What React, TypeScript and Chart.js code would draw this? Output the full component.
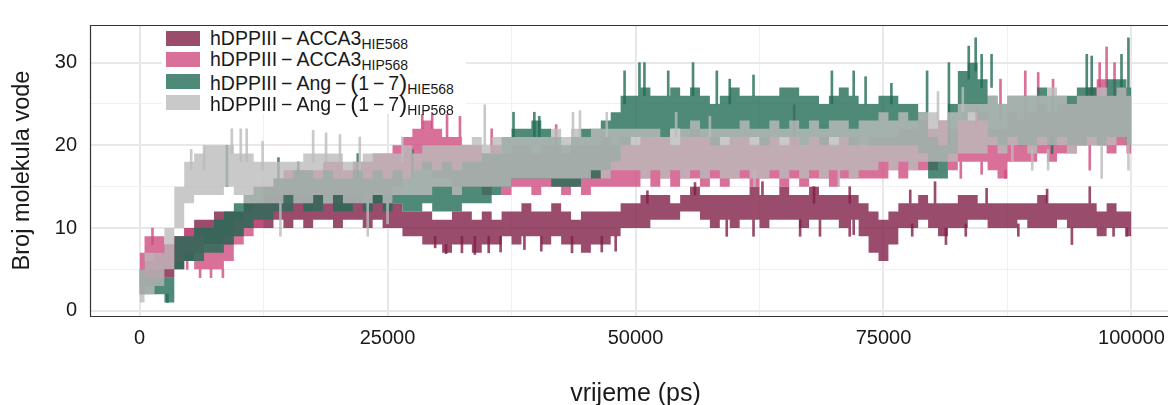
import React, { useEffect, useRef } from 'react';
import { Chart, registerables } from 'chart.js';

Chart.register(...registerables);

// time grid (ps)
const TIME = [
  0, 1000, 2000, 3000, 4000, 5000, 6000, 7000, 8000, 9000,
  10000, 11000, 12000, 13000, 14000, 15000, 16000, 17000, 18000, 19000,
  20000, 21000, 22000, 23000, 24000, 25000, 26000, 27000, 28000, 29000,
  30000, 31000, 32000, 33000, 34000, 35000, 36000, 37000, 38000, 39000,
  40000, 41000, 42000, 43000, 44000, 45000, 46000, 47000, 48000, 49000,
  50000, 51000, 52000, 53000, 54000, 55000, 56000, 57000, 58000, 59000,
  60000, 61000, 62000, 63000, 64000, 65000, 66000, 67000, 68000, 69000,
  70000, 71000, 72000, 73000, 74000, 75000, 76000, 77000, 78000, 79000,
  80000, 81000, 82000, 83000, 84000, 85000, 86000, 87000, 88000, 89000,
  90000, 91000, 92000, 93000, 94000, 95000, 96000, 97000, 98000, 99000,
  100000,
];

// hDPPIII-ACCA3 HIE568 : lower / upper envelope of water count
const S1_LO = [
  2, 3, 3, 4, 5, 6, 7, 8, 8, 8,
  9, 10, 10, 10, 11, 10, 11, 10, 11, 11,
  10, 11, 11, 10, 11, 10, 10, 9, 9, 8,
  8, 7, 8, 8, 7, 8, 8, 9, 8, 9,
  9, 8, 9, 8, 8, 7, 8, 8, 9, 10,
  10, 10, 11, 11, 11, 12, 12, 11, 10, 11,
  10, 11, 11, 10, 11, 11, 11, 10, 11, 11,
  11, 10, 11, 9, 7, 6, 8, 10, 10, 11,
  10, 9, 10, 10, 11, 11, 10, 10, 10, 11,
  10, 10, 10, 11, 10, 10, 10, 9, 10, 10,
  9,
];
const S1_HI = [
  5, 6, 7, 8, 9, 10, 11, 11, 12, 12,
  12, 13, 13, 14, 14, 13, 14, 14, 14, 13,
  14, 14, 14, 13, 14, 14, 13, 12, 12, 12,
  11, 11, 12, 12, 11, 12, 11, 12, 12, 13,
  12, 12, 13, 12, 11, 12, 12, 12, 12, 13,
  13, 14, 14, 14, 13, 14, 15, 14, 14, 14,
  14, 14, 15, 14, 14, 15, 14, 14, 15, 14,
  14, 14, 14, 13, 12, 11, 12, 13, 13, 14,
  13, 13, 13, 14, 14, 13, 13, 13, 13, 13,
  13, 14, 13, 13, 13, 13, 13, 12, 13, 12,
  12,
];
// spikes: [time, from, to]
const S1_SPIKES = [
  [32500, 7, 9], [33800, 6.8, 9], [35200, 7, 9], [36400, 7.1, 9], [38800, 7.4, 9], [40500, 7.2, 9],
  [43600, 7, 9], [46600, 7.1, 9], [48000, 7.2, 9], [29800, 7.6, 9], [30900, 6.9, 8],
  [59200, 9, 11], [61900, 9, 11], [66600, 9, 11], [68600, 9, 11], [71600, 9, 11], [72000, 9.2, 11],
  [77900, 9, 10.5], [81300, 8, 10], [83300, 9, 10.5], [88600, 9, 10.5], [94000, 8, 10], [98200, 9, 10], [99500, 9, 10],
  [68000, 13, 15], [71600, 13, 15], [77700, 13, 14.6], [80200, 13, 15.6], [85400, 13, 14.8], [91500, 13, 14.7],
  [95800, 13, 15], [56000, 14, 15.5], [62800, 14, 15.6], [51200, 13, 14.5],
];

// hDPPIII-ACCA3 HIP568
const S2_LO = [
  3, 5, 5, 5, 6, 7, 5, 5, 5, 6,
  8, 9, 10, 11, 12, 12, 13, 13, 12, 13,
  13, 13, 14, 13, 14, 14, 15, 16, 17, 17,
  16, 16, 15, 15, 15, 14, 15, 14, 15, 15,
  14, 15, 15, 14, 15, 14, 15, 15, 15, 15,
  15, 16, 15, 16, 15, 16, 16, 15, 16, 15,
  16, 16, 15, 16, 16, 15, 16, 15, 16, 16,
  15, 16, 16, 16, 16, 16, 17, 16, 17, 17,
  17, 18, 17, 18, 18, 18, 17, 16, 18, 18,
  18, 19, 18, 19, 19, 20, 20, 20, 19, 20,
  19,
];
const S2_HI = [
  7, 9, 9, 8, 9, 10, 9, 8, 8, 9,
  11, 12, 13, 15, 16, 17, 17, 17, 17, 18,
  18, 17, 18, 18, 19, 19, 20, 21, 22, 23,
  22, 21, 21, 20, 20, 19, 20, 19, 20, 20,
  19, 20, 20, 19, 20, 20, 20, 21, 20, 21,
  20, 21, 21, 21, 20, 21, 22, 21, 21, 20,
  21, 21, 20, 21, 21, 20, 21, 20, 21, 21,
  20, 21, 21, 20, 21, 21, 21, 22, 22, 23,
  22, 23, 22, 23, 23, 24, 22, 22, 24, 23,
  24, 25, 24, 25, 25, 26, 27, 28, 26, 27,
  26,
];
const S2_SPIKES = [
  [1300, 8, 10], [6100, 4, 5], [7200, 4, 5], [8400, 4, 5], [4800, 5, 6],
  [28500, 22, 24.5], [29500, 22, 25], [31000, 21, 24], [32300, 21, 23.5], [35500, 19, 22], [42000, 19, 22.5],
  [66000, 20, 24.9], [84400, 22, 24.5], [86800, 23, 28], [89300, 23, 29], [90600, 24, 28.8], [92100, 24, 28],
  [96800, 26, 30], [97500, 27, 31.9], [98300, 26, 30],
  [82800, 16, 18], [84900, 16.5, 18], [87300, 16, 17], [95800, 17, 20],
];

// hDPPIII-Ang-(1-7) HIE568
const S3_LO = [
  2, 2, 2, 1, 5, 6, 6, 7, 7, 8,
  9, 10, 11, 11, 12, 12, 13, 12, 12, 13,
  12, 12, 13, 12, 13, 12, 13, 12, 12, 13,
  12, 12, 12, 13, 13, 13, 14, 15, 16, 16,
  16, 16, 15, 15, 15, 16, 16, 17, 18, 20,
  21, 21, 21, 21, 22, 21, 21, 21, 20, 21,
  21, 21, 21, 20, 21, 21, 21, 20, 21, 20,
  21, 21, 20, 20, 20, 20, 20, 20, 20, 19,
  16, 16, 19, 23, 24, 23, 21, 20, 21, 20,
  20, 21, 20, 21, 20, 20, 21, 20, 21, 21,
  20,
];
const S3_HI = [
  5, 4, 4, 4, 9, 9, 10, 10, 11, 12,
  13, 14, 15, 15, 16, 16, 17, 17, 16, 17,
  16, 16, 17, 16, 17, 16, 17, 16, 17, 18,
  17, 18, 17, 18, 18, 19, 19, 21, 22, 22,
  23, 22, 21, 20, 21, 22, 22, 23, 24, 26,
  26, 27, 26, 26, 27, 26, 27, 26, 25, 26,
  27, 26, 26, 26, 26, 27, 27, 26, 26, 25,
  26, 27, 26, 25, 25, 26, 26, 25, 25, 24,
  21, 20, 25, 29, 30, 28, 26, 25, 26, 26,
  26, 27, 26, 26, 26, 27, 27, 26, 28, 28,
  27,
];
const S3_SPIKES = [
  [2800, 1, 2], [8800, 15, 20], [14000, 16, 18.5], [16000, 16, 18], [22000, 16, 19], [27500, 16, 19.5],
  [37700, 21, 24], [39800, 21, 24], [40300, 21, 23.5],
  [48900, 25, 29], [50400, 26, 30], [50900, 26, 30], [53300, 26, 29], [55800, 26, 30], [58200, 25, 29],
  [59500, 25, 28], [61900, 26, 28.5], [69800, 25, 29], [72000, 26, 29], [73200, 25, 28.3], [75800, 25, 27.5],
  [79400, 24, 29], [81600, 20, 30], [83600, 28, 32], [84300, 29, 33], [84900, 27, 31], [85900, 27, 31],
  [95500, 26, 31], [96000, 26, 30.8], [99000, 27, 31], [99700, 27, 33], [92000, 19, 21],
];

// hDPPIII-Ang-(1-7) HIP568
const S4_LO = [
  1, 2, 3, 5, 10, 13, 14, 14, 14, 15,
  14, 13, 13, 13, 13, 14, 13, 13, 14, 13,
  14, 13, 13, 13, 14, 13, 14, 14, 14, 14,
  15, 15, 14, 15, 15, 15, 15, 15, 16, 16,
  16, 16, 16, 16, 16, 16, 17, 16, 17, 17,
  17, 16, 17, 16, 17, 16, 17, 16, 17, 16,
  16, 17, 16, 16, 17, 16, 17, 16, 17, 16,
  17, 17, 16, 17, 17, 18, 17, 18, 17, 18,
  18, 18, 18, 19, 19, 19, 20, 19, 20, 20,
  19, 20, 20, 20, 19, 20, 20, 20, 20, 21,
  20,
];
const S4_HI = [
  5, 7, 7, 10, 15, 18, 19, 20, 20, 20,
  19, 19, 18, 18, 18, 18, 18, 19, 19, 19,
  19, 18, 18, 19, 19, 19, 19, 20, 19, 20,
  20, 20, 20, 20, 21, 20, 21, 21, 21, 21,
  21, 21, 22, 21, 22, 21, 22, 22, 22, 22,
  22, 22, 22, 21, 22, 22, 23, 22, 22, 22,
  22, 23, 22, 22, 23, 22, 23, 22, 23, 22,
  23, 23, 22, 23, 23, 24, 23, 24, 23, 24,
  24, 23, 24, 25, 25, 25, 26, 25, 26, 26,
  26, 26, 27, 26, 25, 26, 26, 27, 26, 27,
  26,
];
const S4_SPIKES = [
  [5200, 17, 19.5], [6500, 17, 20], [9300, 19, 22], [10200, 18, 22], [10800, 18, 22], [17500, 18, 21.8],
  [18800, 18, 21.5], [20200, 18, 21.3], [22200, 17, 21], [14200, 9, 13], [23000, 9, 13], [25000, 10.5, 13],
  [12400, 17, 20.5], [26500, 18, 21], [34800, 20, 24.9], [43700, 21, 24], [44400, 21, 24.2], [47100, 21, 24],
  [54100, 21, 24], [57500, 21, 23.5], [80500, 23, 26.5], [83000, 24, 27], [88000, 18, 20], [90000, 17, 19.5],
  [91600, 17, 19.5], [97000, 16, 20], [99700, 17, 20], [62000, 15, 17], [70500, 15, 17],
];

const LEGEND_MAIN = ['hDPPIII\u2009\u2212\u2009ACCA3', 'hDPPIII\u2009\u2212\u2009ACCA3', 'hDPPIII\u2009\u2212\u2009Ang\u2009\u2212\u2009', 'hDPPIII\u2009\u2212\u2009Ang\u2009\u2212\u2009'];
const LEGEND_SUB = ['HIE568', 'HIP568', 'HIE568', 'HIP568'];
const SERIES_COLORS = ['rgba(129,31,71,0.8)', 'rgba(206,76,129,0.8)', 'rgba(34,109,85,0.8)', 'rgba(187,187,187,0.8)'];

const X_GRID = [0, 12500, 25000, 37500, 50000, 62500, 75000, 87500, 100000];
const X_LABELS = [0, 25000, 50000, 75000, 100000];
const Y_GRID = [0, 5, 10, 15, 20, 25, 30];
const Y_LABELS = [0, 10, 20, 30];

const FONT = "'Liberation Sans', Arial, Helvetica, sans-serif";

export default function App() {
  const ref = useRef<HTMLCanvasElement | null>(null);

  useEffect(() => {
    if (!ref.current) return;
    const bands = [
      { lo: S1_LO, hi: S1_HI, spikes: S1_SPIKES, order: 4 },
      { lo: S2_LO, hi: S2_HI, spikes: S2_SPIKES, order: 3 },
      { lo: S3_LO, hi: S3_HI, spikes: S3_SPIKES, order: 2 },
      { lo: S4_LO, hi: S4_HI, spikes: S4_SPIKES, order: 1 },
    ];
    const datasets: any[] = [];
    bands.forEach((b, k) => {
      const loIdx = datasets.length;
      datasets.push({
        type: 'line',
        label: LEGEND_SUB[k] + ' lo',
        data: TIME.map((t, i) => ({ x: t, y: b.lo[i] })),
        borderWidth: 0,
        borderColor: 'rgba(0,0,0,0)',
        pointRadius: 0,
        fill: false,
        stepped: 'middle',
        order: b.order,
      });
      datasets.push({
        type: 'line',
        label: LEGEND_SUB[k] + ' hi',
        data: TIME.map((t, i) => ({ x: t, y: b.hi[i] })),
        borderWidth: 0,
        borderColor: 'rgba(0,0,0,0)',
        backgroundColor: SERIES_COLORS[k],
        pointRadius: 0,
        fill: { target: loIdx },
        stepped: 'middle',
        order: b.order,
      });
      datasets.push({
        type: 'bar',
        label: LEGEND_SUB[k] + ' spikes',
        data: b.spikes.map((s) => ({ x: s[0], y: [s[1], s[2]] })),
        backgroundColor: SERIES_COLORS[k],
        borderWidth: 0,
        barThickness: 2,
        grouped: false,
        order: b.order,
      });
    });

    const border = {
      id: 'panelBorder',
      afterDraw(chart: any) {
        const { ctx, chartArea } = chart;
        const { left, top, right, bottom } = chartArea;
        ctx.save();
        ctx.strokeStyle = '#333333';
        ctx.lineWidth = 1.2;
        ctx.beginPath();
        ctx.moveTo(right, Math.round(top) + 0.5);
        ctx.lineTo(Math.round(left) + 0.5, Math.round(top) + 0.5);
        ctx.lineTo(Math.round(left) + 0.5, Math.round(bottom) + 0.5);
        ctx.lineTo(right, Math.round(bottom) + 0.5);
        ctx.stroke();
        ctx.restore();
      },
    };

    const chart = new Chart(ref.current, {
      type: 'line',
      data: { datasets },
      plugins: [border],
      options: {
        animation: false,
        responsive: false,
        maintainAspectRatio: false,
        layout: { padding: { top: 14, right: 9, left: 0, bottom: 0 } },
        plugins: { legend: { display: false }, tooltip: { enabled: false } },
        elements: { line: { tension: 0 } },
        scales: {
          x: {
            type: 'linear',
            offset: false,
            min: -5000,
            max: 105000,
            afterBuildTicks: (s: any) => { s.ticks = X_GRID.map((v) => ({ value: v })); },
            afterFit: (s: any) => { s.height = 89; },
            ticks: {
              autoSkip: false,
              maxRotation: 0,
              padding: 10,
              color: '#1a1a1a',
              font: { family: FONT, size: 20 },
              callback: (v: any) => (X_LABELS.includes(Number(v)) ? String(v) : ''),
            },
            grid: {
              offset: false,
              drawTicks: false,
              color: (c: any) => (X_LABELS.includes(c.tick?.value) ? '#e8e8e8' : '#f0f0f0'),
              lineWidth: (c: any) => (X_LABELS.includes(c.tick?.value) ? 2 : 1),
            },
            border: { display: false },
            title: {
              display: true,
              text: 'vrijeme (ps)',
              color: '#1a1a1a',
              font: { family: FONT, size: 25, lineHeight: 0.8 },
              padding: { top: 0, bottom: 1 },
            },
          },
          y: {
            type: 'linear',
            min: -0.64,
            max: 34.55,
            afterBuildTicks: (s: any) => { s.ticks = Y_GRID.map((v) => ({ value: v })); },
            afterFit: (s: any) => { s.width = 90; },
            ticks: {
              autoSkip: false,
              padding: 13,
              color: '#1a1a1a',
              font: { family: FONT, size: 20 },
              callback: (v: any) => (Y_LABELS.includes(Number(v)) ? String(v) : ''),
            },
            grid: {
              drawTicks: false,
              color: (c: any) => (Y_LABELS.includes(c.tick?.value) ? '#e8e8e8' : '#f0f0f0'),
              lineWidth: (c: any) => (Y_LABELS.includes(c.tick?.value) ? 2 : 1),
            },
            border: { display: false },
            title: {
              display: true,
              text: 'Broj molekula vode',
              color: '#1a1a1a',
              font: { family: FONT, size: 23.5, lineHeight: 1.2 },
              padding: { top: 8, bottom: 0 },
            },
          },
        },
      },
    });
    return () => chart.destroy();
  }, []);

  return (
    <div style={{ position: 'fixed', left: 0, top: 0, width: 1168, height: 405, overflow: 'hidden', background: '#fff' }}>
      <canvas ref={ref} width={1190} height={405} style={{ width: 1190, height: 405, display: 'block' }} />
      <div style={{ position: 'absolute', left: 162, top: 26, width: 304, height: 88, background: '#fff' }} />
      {LEGEND_MAIN.map((m, i) => (
        <div key={i} style={{ position: 'absolute', left: 166, top: 28 + i * 21.3, height: 21, fontFamily: FONT, color: '#1a1a1a', whiteSpace: 'nowrap' }}>
          <div style={{ position: 'absolute', left: 0, top: 3, width: 34, height: 15, background: SERIES_COLORS[i] }} />
          <span style={{ position: 'absolute', left: 44, top: 0, fontSize: 19.5, lineHeight: '21px' }}>
            {m}
            {i >= 2 ? (
              <span>
                <span style={{ fontSize: 24, position: 'relative', top: 1 }}>(</span>1{'\u2009\u2212\u2009'}7<span style={{ fontSize: 24, position: 'relative', top: 1 }}>)</span>
              </span>
            ) : null}
            <span style={{ fontSize: 14, position: 'relative', top: 4 }}>{LEGEND_SUB[i]}</span>
          </span>
        </div>
      ))}
    </div>
  );
}
